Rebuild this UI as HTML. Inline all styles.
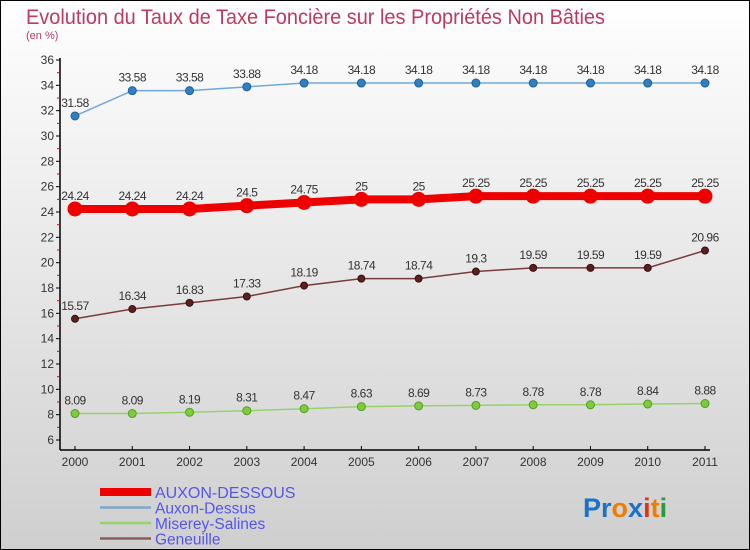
<!DOCTYPE html>
<html><head><meta charset="utf-8"><style>
body{margin:0}
#wrap{width:750px;height:550px;position:relative;overflow:hidden;font-family:"Liberation Sans",sans-serif}
</style></head><body>
<div id="wrap">
<svg id="chart" width="750" height="550" xmlns="http://www.w3.org/2000/svg">
<defs>
<linearGradient id="bg" x1="0" y1="0" x2="0" y2="1"><stop offset="0" stop-color="#ffffff"/><stop offset="1" stop-color="#cfcfcf"/></linearGradient>
</defs>
<rect x="0.5" y="0.5" width="749" height="549" fill="url(#bg)" stroke="#000"/>
<text x="26" y="24" font-size="21" fill="#c0395f" textLength="579" lengthAdjust="spacingAndGlyphs">Evolution du Taux de Taxe Foncière sur les Propriétés Non Bâties</text>
<text x="26" y="39" font-size="11" fill="#c0395f">(en %)</text>
<g id="axes"></g>
<g id="series"></g>
<g id="legend"></g>
<text x="583" y="517" font-size="27" font-weight="bold"><tspan fill="#1a73c9">Pr</tspan><tspan fill="#f07c00">o</tspan><tspan fill="#1a73c9">x</tspan><tspan fill="#e8320f">i</tspan><tspan fill="#f07c00">t</tspan><tspan fill="#2a9a3a">i</tspan></text>
</svg>
</div>
<script>
const years=["2000","2001","2002","2003","2004","2005","2006","2007","2008","2009","2010","2011"];
const yTicks=[6,8,10,12,14,16,18,20,22,24,26,28,30,32,34,36];
const auxonDessous=[24.24,24.24,24.24,24.5,24.75,25,25,25.25,25.25,25.25,25.25,25.25];
const auxonDessus=[31.58,33.58,33.58,33.88,34.18,34.18,34.18,34.18,34.18,34.18,34.18,34.18];
const miserey=[8.09,8.09,8.19,8.31,8.47,8.63,8.69,8.73,8.78,8.78,8.84,8.88];
const geneuille=[15.57,16.34,16.83,17.33,18.19,18.74,18.74,19.3,19.59,19.59,19.59,20.96];
const seriesNames=["AUXON-DESSOUS","Auxon-Dessus","Miserey-Salines","Geneuille"];
const NS="http://www.w3.org/2000/svg";
function xs(i){return 75+i*(630/11);}
function ys(v){return 440-(v-6)*(380/30);}
function mk(tag,attrs,parent){const e=document.createElementNS(NS,tag);for(const k in attrs)e.setAttribute(k,attrs[k]);parent.appendChild(e);return e;}
const axes=document.getElementById('axes');
let l=mk('line',{x1:60,y1:58,x2:60,y2:450,stroke:'#000','stroke-width':1.5},axes);


l=mk('line',{x1:60,y1:450,x2:710,y2:450,stroke:'#000','stroke-width':1.5},axes);


yTicks.forEach(v=>{
  const y=ys(v);
  mk('line',{x1:56,y1:y,x2:60,y2:y,stroke:'#000'},axes);
  if(v<36) mk('line',{x1:57,y1:ys(v+1),x2:60,y2:ys(v+1),stroke:'#e00'},axes);
  const t=mk('text',{x:54,y:y+4,'text-anchor':'end','font-size':12,fill:'#333'},axes);
  t.textContent=v;
  
  
});
years.forEach((yr,i)=>{
  const x=xs(i);
  mk('line',{x1:x,y1:446,x2:x,y2:450,stroke:'#000'},axes);
  const t=mk('text',{x:x,y:466,'text-anchor':'middle','font-size':12,fill:'#333'},axes);
  t.textContent=yr;
  
  
});
const sg=document.getElementById('series');
function drawSeries(data,name,color,fill,lw,r,dotStroke){
  const g=mk('g',{},sg);
  
  
  const pts=data.map((v,i)=>xs(i)+','+ys(v)).join(' ');
  mk('polyline',{points:pts,fill:'none',stroke:color,'stroke-width':lw},g);
  data.forEach((v,i)=>{
    const c=mk('circle',{cx:xs(i),cy:ys(v),r:r,fill:fill,stroke:dotStroke,'stroke-width':1},g);
    
    
    const t=mk('text',{x:xs(i),y:ys(v)-9,'text-anchor':'middle','font-size':12,fill:'#333','letter-spacing':'-0.5'},g);
    t.textContent=v;
    
    
  });
}
drawSeries(auxonDessus,'auxon-dessus','#6fa8dc','#2f7fc1',1.5,4,'#1f5f99');
drawSeries(geneuille,'geneuille','#7a3b3b','#5a1f1f',1.5,3.5,'#3a0f0f');
drawSeries(miserey,'miserey-salines','#96d36a','#7ccc3c',1.5,4,'#5a9a2a');
drawSeries(auxonDessous,'auxon-dessous','#ee0000','#ee0000',8,7,'#ee0000');
const lg=document.getElementById('legend');
const lstyles=[['#ee0000',8],['#7aa9cc',2.5],['#96d36a',2.5],['#8a5a5a',2.5]];
seriesNames.forEach((n,i)=>{
  const y=492+i*15.5;
  const g=mk('g',{},lg);
  
  
  mk('line',{x1:100,y1:y,x2:151,y2:y,stroke:lstyles[i][0],'stroke-width':lstyles[i][1]},g);
  const t=mk('text',{x:155,y:y+6,'font-size':i==0?16:15.5,fill:'#5555ee'},g);
  t.textContent=n;
});
</script>
</body></html>
